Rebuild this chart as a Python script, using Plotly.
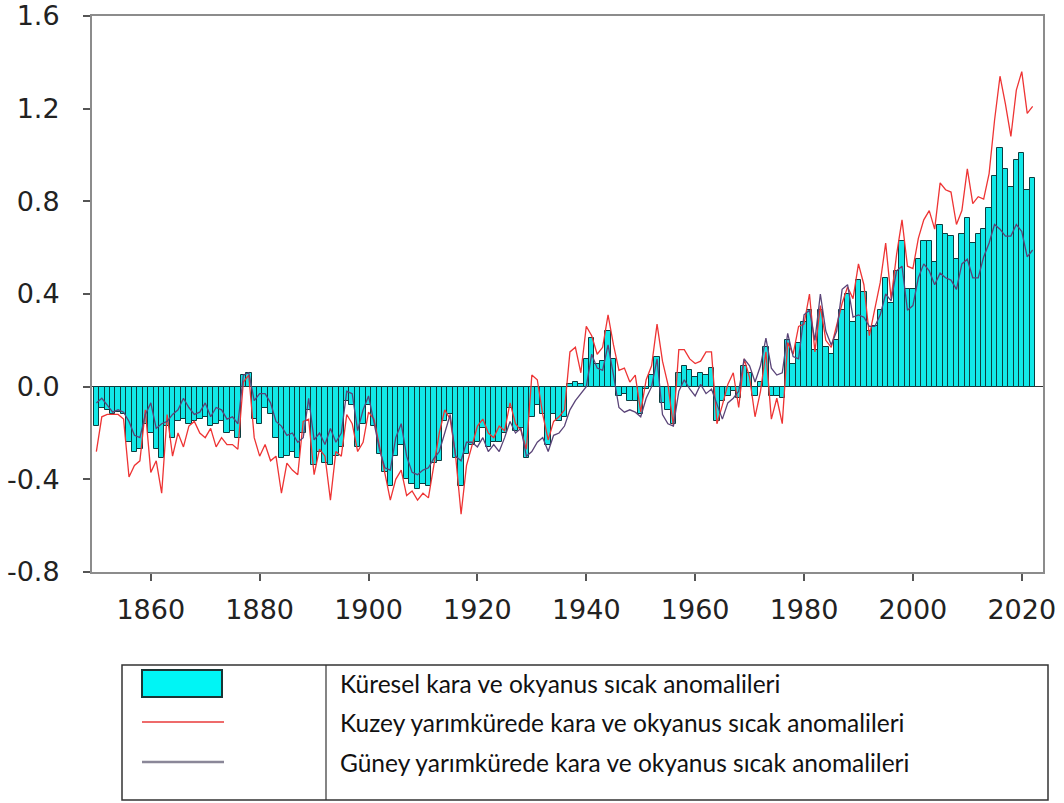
import plotly.graph_objects as go

# Annual temperature anomalies (°C), 1850-2022
years = list(range(1850, 2023))

global_anom = [
    -0.17, -0.09, -0.10, -0.12, -0.11, -0.12, -0.24, -0.28, -0.27, -0.16,
    -0.20, -0.27, -0.31, -0.17, -0.22, -0.15, -0.14, -0.16, -0.15, -0.14,
    -0.13, -0.17, -0.16, -0.15, -0.20, -0.19, -0.22, 0.05, 0.06, -0.14,
    -0.16, -0.09, -0.12, -0.22, -0.31, -0.30, -0.28, -0.31, -0.20, -0.10,
    -0.34, -0.28, -0.33, -0.34, -0.30, -0.26, -0.06, -0.08, -0.26, -0.16,
    -0.08, -0.17, -0.29, -0.37, -0.43, -0.30, -0.25, -0.40, -0.42, -0.44,
    -0.42, -0.43, -0.33, -0.32, -0.15, -0.12, -0.31, -0.43, -0.29, -0.25,
    -0.24, -0.18, -0.26, -0.24, -0.24, -0.20, -0.09, -0.19, -0.18, -0.31,
    -0.13, -0.08, -0.12, -0.25, -0.12, -0.15, -0.13, 0.01, 0.02, 0.01,
    0.12, 0.21, 0.10, 0.11, 0.24, 0.12, -0.04, -0.03, -0.06, -0.06,
    -0.12, -0.01, 0.05, 0.13, -0.07, -0.10, -0.16, 0.06, 0.09, 0.07,
    0.04, 0.06, 0.05, 0.08, -0.15, -0.06, -0.04, -0.02, -0.05, 0.09,
    0.06, -0.04, 0.02, 0.17, -0.04, -0.04, -0.05, 0.20, 0.10, 0.19,
    0.28, 0.33, 0.16, 0.33, 0.17, 0.14, 0.20, 0.33, 0.40, 0.28,
    0.46, 0.41, 0.24, 0.26, 0.33, 0.47, 0.36, 0.50, 0.63, 0.42,
    0.42, 0.55, 0.63, 0.63, 0.54, 0.70, 0.66, 0.65, 0.55, 0.66,
    0.73, 0.62, 0.66, 0.68, 0.77, 0.91, 1.03, 0.94, 0.86, 0.98,
    1.01, 0.85, 0.90,
]

north_anom = [
    -0.28, -0.13, -0.12, -0.12, -0.12, -0.14, -0.39, -0.34, -0.32, -0.10,
    -0.37, -0.32, -0.46, -0.12, -0.30, -0.20, -0.26, -0.17, -0.15, -0.20,
    -0.22, -0.18, -0.26, -0.22, -0.25, -0.25, -0.27, 0.02, 0.05, -0.22,
    -0.30, -0.25, -0.32, -0.30, -0.46, -0.33, -0.36, -0.38, -0.15, -0.14,
    -0.38, -0.27, -0.30, -0.49, -0.28, -0.30, -0.12, -0.16, -0.28, -0.24,
    -0.11, -0.14, -0.26, -0.38, -0.49, -0.40, -0.36, -0.47, -0.45, -0.49,
    -0.46, -0.48, -0.33, -0.20, -0.10, -0.14, -0.30, -0.55, -0.34, -0.25,
    -0.17, -0.14, -0.20, -0.22, -0.17, -0.19, -0.07, -0.16, -0.19, -0.27,
    0.05, 0.03, -0.12, -0.23, -0.15, -0.13, -0.10, 0.15, 0.17, 0.06,
    0.26, 0.22, 0.14, 0.17, 0.31, 0.18, 0.07, 0.08, 0.02, 0.05,
    -0.11, 0.03, 0.09, 0.27, 0.11, 0.01, -0.17, 0.16, 0.16, 0.12,
    0.10, 0.11, 0.15, 0.15, -0.16, -0.08, 0.01, 0.06, -0.09, 0.12,
    0.04, -0.13, -0.02, 0.15, -0.14, -0.05, -0.16, 0.19, 0.14, 0.26,
    0.27, 0.40, 0.15, 0.35, 0.20, 0.17, 0.27, 0.36, 0.43, 0.38,
    0.53, 0.44, 0.22, 0.33, 0.45, 0.62, 0.38, 0.57, 0.72, 0.52,
    0.51, 0.64, 0.72, 0.76, 0.68, 0.88, 0.85, 0.84, 0.70, 0.76,
    0.94, 0.79, 0.82, 0.81, 0.92, 1.15, 1.34, 1.22, 1.08, 1.28,
    1.36, 1.18, 1.21,
]

south_anom = [
    -0.07, -0.05, -0.08, -0.11, -0.10, -0.11, -0.15, -0.21, -0.22, -0.12,
    -0.07, -0.18, -0.16, -0.15, -0.12, -0.10, -0.05, -0.09, -0.12, -0.11,
    -0.07, -0.13, -0.09, -0.10, -0.14, -0.13, -0.16, 0.05, 0.06, -0.06,
    -0.03, -0.03, -0.07, -0.15, -0.17, -0.21, -0.20, -0.24, -0.22, -0.05,
    -0.23, -0.20, -0.25, -0.18, -0.24, -0.20, -0.02, -0.03, -0.19, -0.10,
    -0.04, -0.15, -0.27, -0.35, -0.36, -0.22, -0.16, -0.30, -0.37, -0.38,
    -0.36, -0.35, -0.31, -0.28, -0.20, -0.12, -0.30, -0.32, -0.24, -0.24,
    -0.26, -0.22, -0.28, -0.25, -0.28, -0.22, -0.15, -0.20, -0.18, -0.30,
    -0.28, -0.24, -0.22, -0.28, -0.21, -0.20, -0.17, -0.10, -0.06, -0.03,
    0.00, 0.14, 0.08, 0.07, 0.18, 0.05, -0.09, -0.11, -0.10, -0.11,
    -0.13, -0.05, 0.00, 0.12, -0.12, -0.16, -0.17, -0.02, 0.03, -0.01,
    -0.04, 0.01, -0.03, -0.01, -0.08, -0.14, -0.07, -0.05, -0.02, 0.12,
    0.09, 0.02, 0.09, 0.21, 0.08, 0.05, 0.06, 0.23, 0.13, 0.12,
    0.31, 0.33, 0.20, 0.40, 0.24, 0.18, 0.24, 0.42, 0.44, 0.30,
    0.31, 0.30, 0.26, 0.26, 0.31, 0.40, 0.37, 0.50, 0.52, 0.33,
    0.35, 0.47, 0.53, 0.50, 0.44, 0.49, 0.47, 0.46, 0.42, 0.53,
    0.55, 0.47, 0.47, 0.56, 0.62, 0.70, 0.68, 0.65, 0.65, 0.70,
    0.67, 0.56, 0.59,
]

x_ticks = [1860, 1880, 1900, 1920, 1940, 1960, 1980, 2000, 2020]
y_ticks = [-0.8, -0.4, 0.0, 0.4, 0.8, 1.2, 1.6]
y_tick_text = ["-0.8", "-0.4", "0.0", "0.4", "0.8", "1.2", "1.6"]

legend_labels = [
    "Küresel kara ve okyanus sıcak anomalileri",
    "Kuzey yarımkürede kara ve okyanus sıcak anomalileri",
    "Güney yarımkürede kara ve okyanus sıcak anomalileri",
]

BAR_FILL = "#12e8e8"
BAR_EDGE = "#0c3d3f"
NH_COLOR = "#ee3434"
SH_COLOR = "#5a4478"

W, H = 1064, 803
L, R, T, B = 92, 21, 16, 231
PW, PH = W - L - R, H - T - B


def px(xp):
    return (xp - L) / PW


def py(yp):
    return (H - B - yp) / PH


fig = go.Figure()

fig.add_trace(go.Bar(
    x=years, y=global_anom, width=1,
    marker=dict(color=BAR_FILL, line=dict(color=BAR_EDGE, width=1)),
    name=legend_labels[0],
))
fig.add_trace(go.Scatter(
    x=years, y=north_anom, mode="lines",
    line=dict(color=NH_COLOR, width=1.3),
    name=legend_labels[1],
))
fig.add_trace(go.Scatter(
    x=years, y=south_anom, mode="lines",
    line=dict(color=SH_COLOR, width=1.3),
    name=legend_labels[2],
))

axis_font = dict(family="DejaVu Sans, Arial, sans-serif", size=27, color="#222222")

fig.update_xaxes(
    range=[1849.2, 2023.9],
    tickvals=x_ticks,
    ticks="outside", ticklen=7, tickwidth=1.5, tickcolor="#555555",
    showline=True, mirror=True, linecolor="#8c8c8c", linewidth=2,
    showgrid=False, zeroline=False, automargin=False,
    tickfont=axis_font, ticklabelstandoff=6,
)
fig.update_yaxes(
    range=[-0.8, 1.6],
    tickvals=y_ticks, ticktext=y_tick_text,
    ticks="outside", ticklen=7, tickwidth=1.5, tickcolor="#555555",
    showline=True, mirror=True, linecolor="#8c8c8c", linewidth=2,
    showgrid=False, automargin=False,
    zeroline=True, zerolinecolor="#333333", zerolinewidth=1,
    tickfont=axis_font, ticklabelstandoff=18,
)

# Legend table drawn below the plot
shapes = [
    dict(type="rect", xref="paper", yref="paper",
         x0=px(122), x1=px(1048), y0=py(800), y1=py(665),
         line=dict(color="#333333", width=1.5), fillcolor="rgba(0,0,0,0)"),
    dict(type="line", xref="paper", yref="paper",
         x0=px(326), x1=px(326), y0=py(800), y1=py(665),
         line=dict(color="#333333", width=1.2)),
    dict(type="rect", xref="paper", yref="paper",
         x0=px(142), x1=px(222), y0=py(697), y1=py(670),
         line=dict(color="#1b3535", width=2), fillcolor="#00f5f5"),
    dict(type="line", xref="paper", yref="paper",
         x0=px(142), x1=px(224), y0=py(722), y1=py(722),
         line=dict(color="#e83a3a", width=1.5)),
    dict(type="line", xref="paper", yref="paper",
         x0=px(142), x1=px(224), y0=py(762), y1=py(762),
         line=dict(color="#8a8798", width=2.5)),
]

annotations = []
for label, yc in zip(legend_labels, [683, 722, 763]):
    annotations.append(dict(
        xref="paper", yref="paper", x=px(338), y=py(yc),
        xanchor="left", yanchor="middle", showarrow=False,
        text=label, font=dict(family="Lato, Open Sans, sans-serif", size=24.5, color="#111111"),
    ))

fig.update_layout(
    width=W, height=H,
    margin=dict(l=L, r=R, t=T, b=B),
    plot_bgcolor="white", paper_bgcolor="white",
    showlegend=False, bargap=0,
    shapes=shapes, annotations=annotations,
)

fig.write_html("out.html")
